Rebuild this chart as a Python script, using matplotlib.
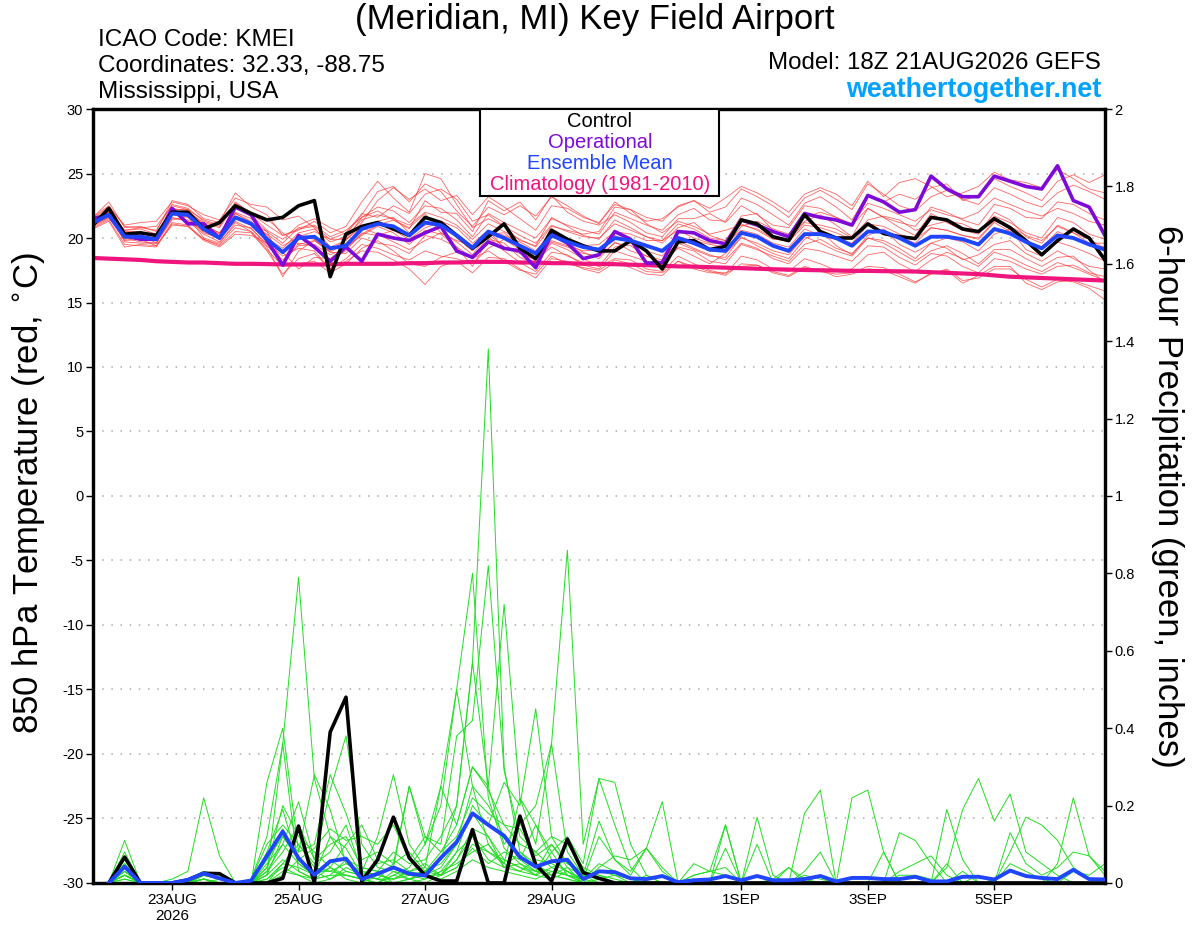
import numpy as np
import pandas as pd
import matplotlib
matplotlib.use("Agg")
import matplotlib.pyplot as plt
from matplotlib.patches import Rectangle

plt.rcParams['font.family'] = ['Liberation Sans', 'DejaVu Sans']

# 6-hourly forecast times, 21AUG2026 18Z -> 6SEP2026 18Z
times = pd.date_range("2026-08-21 18:00", periods=65, freq="6h")
precip_times = times[1:]

# 850 hPa temperature (C)
control_temp = [21.0, 22.3, 20.3, 20.4, 20.2, 22.0, 22.0, 20.7, 21.2, 22.5,
                21.9, 21.4, 21.6, 22.5, 22.9, 17.0, 20.3, 20.9, 21.2, 20.7,
                20.2, 21.6, 21.2, 20.2, 19.2, 20.1, 21.1, 19.2, 18.4, 20.6,
                19.9, 19.4, 19.0, 19.0, 19.8, 19.0, 17.6, 19.7, 19.8, 19.1,
                19.35, 21.4, 21.1, 20.1, 19.8, 21.8, 20.5, 20.0, 20.0, 21.1,
                20.35, 20.1, 19.96, 21.6, 21.4, 20.7, 20.5, 21.5, 20.8, 19.8,
                18.7, 19.8, 20.7, 20.0, 18.3]
mean_temp = [21.2, 21.8, 20.1, 20.1, 19.9, 21.9, 21.8, 20.7, 20.0, 21.6,
             21.1, 19.9, 18.9, 20.0, 20.1, 19.2, 19.4, 20.7, 21.1, 20.9,
             20.2, 21.2, 21.0, 20.2, 19.25, 20.5, 20.0, 19.4, 18.8, 20.2,
             19.7, 19.3, 19.1, 20.0, 19.8, 19.4, 19.0, 20.0, 19.6, 19.1,
             19.0, 20.4, 20.1, 19.4, 19.0, 20.3, 20.3, 20.0, 19.4, 20.5,
             20.5, 20.0, 19.4, 20.1, 20.1, 19.9, 19.5, 20.7, 20.35, 19.7,
             19.2, 20.2, 20.0, 19.5, 19.1]
oper_temp = [21.5, 21.8, 20.2, 19.9, 19.9, 22.3, 21.1, 21.1, 20.0, 22.4,
             21.8, 19.8, 17.9, 20.2, 19.3, 18.2, 19.3, 18.2, 20.3, 20.0,
             19.8, 20.4, 20.9, 19.0, 18.5, 19.7, 19.2, 19.0, 17.7, 20.3,
             19.6, 18.4, 18.7, 20.5, 19.9, 18.05, 18.1, 20.5, 20.4, 19.8,
             19.55, 21.4, 21.0, 20.5, 20.1, 21.9, 21.6, 21.4, 21.0, 23.3,
             22.8, 22.0, 22.2, 24.8, 23.8, 23.2, 23.2, 24.8, 24.4, 24.0,
             23.8, 25.6, 22.9, 22.4, 20.2]
clim_temp = [18.45, 18.4, 18.35, 18.3, 18.2, 18.15, 18.1, 18.1, 18.05, 18.0,
             18.0, 17.98, 17.95, 17.95, 17.95, 17.95, 18.0, 18.0, 18.0, 18.0,
             18.05, 18.05, 18.1, 18.1, 18.15, 18.15, 18.15, 18.1, 18.1, 18.05,
             18.05, 18.0, 18.0, 17.97, 17.93, 17.9, 17.85, 17.8, 17.78, 17.74,
             17.7, 17.66, 17.62, 17.58, 17.55, 17.52, 17.5, 17.48, 17.45, 17.45,
             17.43, 17.42, 17.4, 17.35, 17.3, 17.25, 17.2, 17.1, 17.0, 16.95,
             16.9, 16.85, 16.8, 16.75, 16.7]

member_temp = [
    [21.6, 22.8, 20.8, 20.9, 20.5, 22.9, 22.6, 21.5, 21.2, 23.5, 22.4, 21.8, 20.2, 20.6, 21.3, 20.4, 20.9, 22.8, 24.4, 23.1,
     22.0, 25.0, 24.6, 22.6, 20.8, 21.5, 20.9, 19.8, 19.4, 21.6, 20.9, 20.2, 19.9, 21.4, 20.8, 20.1, 19.6, 20.8, 21.2, 20.2,
     19.8, 21.7, 21.9, 20.6, 20.0, 21.3, 21.8, 21.0, 20.1, 22.3, 21.6, 20.8, 20.2, 21.9, 21.2, 20.6, 20.3, 22.0, 21.4, 20.1,
     19.6, 21.0, 20.4, 19.9, 19.2],
    [20.8, 21.4, 19.5, 19.4, 19.3, 21.1, 20.9, 19.9, 19.4, 20.5, 20.4, 19.0, 17.2, 18.4, 18.8, 17.6, 18.2, 19.0, 18.9, 18.3,
     17.6, 16.4, 17.8, 18.2, 17.3, 18.5, 18.4, 17.6, 16.9, 18.4, 18.2, 17.6, 17.3, 18.1, 17.7, 17.2, 17.1, 18.2, 17.8, 17.4,
     17.1, 18.0, 17.9, 17.4, 17.1, 17.8, 17.4, 17.2, 17.3, 17.8, 17.7, 17.2, 16.6, 17.2, 17.6, 16.7, 16.9, 17.6, 17.6, 16.8,
     16.2, 16.8, 16.6, 16.1, 15.2],
    [21.3, 22.0, 20.6, 20.7, 20.3, 22.3, 22.1, 21.0, 20.4, 22.0, 21.5, 20.5, 19.6, 20.8, 21.0, 20.1, 20.6, 21.6, 22.4, 22.1,
     21.2, 22.5, 22.3, 21.4, 20.1, 21.9, 21.2, 20.6, 20.0, 21.5, 21.0, 20.6, 20.3, 22.0, 21.5, 21.0, 20.6, 21.8, 22.3, 21.4,
     21.3, 23.1, 22.6, 21.8, 21.0, 22.7, 23.2, 22.4, 21.4, 23.4, 22.8, 23.4, 23.0, 23.9, 24.2, 22.9, 23.3, 24.6, 24.0, 23.5,
     22.9, 24.4, 24.9, 24.3, 24.9],
    [21.0, 21.6, 20.0, 20.3, 19.6, 21.6, 21.3, 20.3, 19.7, 21.0, 20.8, 19.4, 18.3, 19.4, 19.5, 18.7, 19.2, 20.3, 21.0, 21.4,
     20.8, 21.9, 20.4, 19.7, 18.7, 20.3, 19.3, 18.8, 18.3, 19.7, 19.3, 18.8, 18.6, 19.6, 19.4, 18.6, 18.3, 19.6, 19.1, 18.6,
     18.5, 20.1, 19.4, 18.8, 18.4, 19.9, 20.6, 19.4, 18.7, 20.2, 20.7, 19.5, 18.9, 19.6, 20.0, 19.7, 19.0, 20.3, 20.7, 19.1,
     18.6, 19.7, 19.3, 18.8, 18.2],
    [21.5, 22.4, 21.0, 21.2, 21.3, 22.8, 22.5, 21.8, 21.4, 23.1, 22.6, 22.4, 21.4, 21.7, 20.8, 19.3, 19.8, 21.2, 22.9, 23.9,
     23.0, 23.8, 22.9, 23.3, 21.8, 23.2, 22.4, 21.5, 20.6, 22.5, 22.3, 21.6, 21.2, 22.6, 22.2, 21.1, 20.4, 21.3, 20.9, 20.3,
     20.6, 21.0, 20.7, 20.0, 19.7, 21.0, 20.8, 20.4, 19.9, 21.1, 20.9, 20.3, 19.9, 20.8, 20.6, 20.2, 20.0, 21.3, 20.9, 20.2,
     19.8, 20.9, 20.4, 19.6, 19.6],
    [21.1, 21.9, 19.7, 19.6, 19.6, 21.4, 21.7, 20.0, 19.6, 21.2, 20.5, 19.3, 17.0, 19.0, 19.8, 18.9, 18.8, 20.0, 19.6, 19.4,
     18.8, 20.2, 19.9, 19.3, 17.8, 19.9, 19.6, 18.5, 18.0, 19.6, 19.1, 18.4, 17.8, 19.3, 19.6, 19.0, 18.6, 20.1, 19.8, 19.5,
     19.3, 20.9, 21.3, 20.7, 20.3, 21.6, 22.0, 21.6, 21.0, 22.3, 21.6, 21.2, 20.9, 22.4, 22.0, 21.4, 21.0, 22.6, 22.3, 21.6,
     21.5, 22.8, 22.6, 21.9, 21.4],
    [21.4, 21.8, 20.4, 20.2, 20.0, 22.1, 22.0, 20.9, 20.3, 21.9, 21.3, 20.2, 18.8, 20.1, 20.5, 19.9, 19.9, 20.8, 20.3, 19.7,
     19.1, 19.8, 20.4, 19.8, 19.4, 20.6, 19.2, 18.9, 18.3, 19.3, 18.6, 18.1, 17.8, 18.4, 18.3, 17.6, 17.4, 18.6, 18.0, 17.5,
     17.2, 18.6, 18.3, 17.6, 17.4, 18.4, 18.0, 17.5, 17.6, 18.7, 18.9, 18.0, 17.4, 18.3, 18.9, 18.4, 17.8, 18.9, 18.5, 17.9,
     17.4, 18.1, 17.7, 17.2, 16.7],
    [20.9, 21.5, 20.2, 20.0, 19.9, 21.8, 22.0, 21.2, 20.8, 22.6, 21.8, 20.6, 19.9, 21.0, 21.5, 20.8, 20.3, 21.8, 23.6, 24.0,
     22.8, 24.2, 23.6, 22.1, 20.9, 22.4, 21.8, 22.5, 21.7, 23.2, 22.5, 21.7, 21.1, 22.8, 21.9, 21.3, 21.5, 22.4, 22.9, 22.0,
     22.4, 23.8, 23.2, 22.5, 21.6, 23.1, 23.7, 23.0, 22.2, 24.2, 23.4, 22.5, 22.1, 23.2, 23.7, 23.0, 22.6, 23.9, 23.4, 22.8,
     22.4, 23.5, 24.1, 23.6, 23.0],
    [21.2, 21.7, 19.9, 20.0, 19.8, 21.5, 21.4, 20.5, 19.9, 21.3, 20.7, 19.6, 18.6, 19.2, 19.0, 17.6, 18.4, 19.5, 19.2, 18.7,
     18.3, 19.0, 18.6, 18.4, 18.0, 19.2, 19.9, 19.1, 18.4, 19.8, 19.4, 19.0, 19.1, 20.2, 19.7, 19.5, 18.9, 19.8, 19.2, 18.7,
     18.3, 19.6, 19.2, 18.4, 18.0, 19.2, 19.0, 18.6, 18.2, 19.4, 19.3, 18.5, 17.9, 18.8, 18.6, 17.8, 17.3, 18.4, 18.2, 17.6,
     17.2, 17.8, 17.9, 17.3, 17.0],
    [21.6, 22.5, 20.9, 20.8, 20.6, 22.6, 22.3, 21.3, 20.9, 22.8, 21.9, 21.0, 20.2, 20.7, 20.9, 19.9, 20.4, 21.9, 21.6, 22.5,
     21.9, 23.4, 23.8, 23.0, 21.3, 21.8, 20.9, 20.2, 19.6, 21.0, 20.5, 20.1, 20.0, 21.1, 20.6, 20.1, 19.8, 21.1, 20.7, 20.0,
     19.8, 21.1, 20.6, 19.9, 19.8, 21.2, 21.0, 20.7, 20.0, 21.4, 21.7, 21.4, 20.6, 21.0, 21.3, 21.1, 20.5, 21.7, 21.2, 20.4,
     20.0, 21.6, 21.2, 20.3, 19.9],
    [20.7, 21.3, 19.3, 19.5, 19.4, 21.0, 20.9, 19.8, 19.3, 20.3, 20.2, 19.6, 18.9, 17.6, 18.5, 18.4, 19.3, 20.2, 20.9, 20.4,
     19.5, 20.6, 20.3, 19.3, 18.5, 20.1, 19.0, 18.1, 17.4, 18.9, 18.7, 17.9, 17.6, 19.0, 18.6, 18.2, 17.9, 19.3, 19.0, 18.2,
     18.0, 19.5, 19.1, 18.6, 18.2, 19.5, 19.9, 19.2, 18.8, 20.0, 19.8, 19.2, 18.4, 19.6, 19.2, 18.3, 18.7, 19.5, 19.8, 18.8,
     18.2, 19.0, 18.4, 17.8, 17.6],
    [21.3, 22.1, 20.5, 20.5, 20.1, 22.2, 22.2, 21.0, 20.4, 21.9, 21.2, 20.0, 19.2, 20.4, 20.7, 19.7, 20.1, 21.4, 21.8, 21.5,
     21.0, 22.0, 21.6, 21.0, 19.9, 21.1, 20.5, 19.9, 19.3, 20.9, 20.6, 20.3, 20.5, 22.4, 22.2, 21.6, 21.3, 22.5, 22.9, 22.3,
     23.1, 24.0, 23.5, 22.8, 22.0, 23.4, 23.9, 23.4, 22.5, 24.4, 23.2, 24.3, 24.6, 24.0, 23.2, 23.5, 24.0, 25.1, 24.5, 24.3,
     23.9, 25.3, 24.6, 23.8, 23.5],
    [21.0, 21.6, 19.8, 19.9, 19.4, 21.2, 21.0, 19.9, 19.5, 20.8, 20.5, 19.1, 17.8, 18.0, 18.2, 17.3, 18.0, 19.2, 19.8, 19.0,
     18.0, 17.8, 18.5, 18.9, 18.4, 19.0, 18.2, 17.5, 17.2, 18.6, 18.0, 17.7, 17.5, 18.3, 18.0, 17.4, 17.3, 18.2, 17.6, 17.3,
     17.3, 17.8, 17.9, 17.3, 17.0, 17.7, 17.5, 17.0, 17.2, 17.6, 17.5, 17.0, 16.5, 17.3, 17.5, 16.5, 17.1, 17.8, 17.8, 16.5,
     16.0, 16.6, 16.7, 16.3, 15.9],
    [21.4, 22.2, 20.3, 20.4, 20.1, 22.0, 21.9, 20.6, 19.9, 21.5, 21.0, 20.3, 19.4, 20.1, 19.9, 18.9, 19.6, 20.6, 21.3, 21.6,
     20.4, 21.0, 21.3, 20.8, 19.6, 20.6, 20.2, 19.7, 19.0, 20.4, 19.9, 19.4, 19.5, 20.5, 20.3, 19.8, 19.8, 20.6, 20.0, 19.6,
     19.6, 20.6, 20.3, 19.6, 19.3, 20.7, 20.2, 20.0, 19.6, 21.0, 20.5, 20.1, 19.6, 20.8, 20.6, 20.2, 19.9, 21.2, 20.5, 19.7,
     19.3, 20.5, 20.0, 19.4, 19.3],
    [21.2, 22.0, 20.6, 20.8, 20.9, 22.5, 22.2, 21.4, 21.0, 22.7, 22.0, 21.5, 20.4, 19.5, 19.8, 19.0, 19.9, 21.6, 22.1, 21.4,
     20.7, 22.9, 22.0, 21.9, 20.5, 22.9, 22.1, 22.8, 21.4, 23.3, 22.0, 21.3, 21.0, 21.8, 21.2, 20.4, 20.1, 21.5, 21.5, 21.9,
     21.2, 22.5, 21.8, 21.0, 20.8, 22.5, 22.3, 21.6, 21.1, 22.7, 22.3, 21.8, 21.3, 22.2, 21.8, 21.5, 22.0, 23.1, 22.6, 22.1,
     21.7, 22.3, 21.9, 21.3, 21.0],
    [21.0, 21.7, 20.0, 19.7, 19.6, 21.8, 21.6, 20.4, 20.0, 21.6, 21.1, 20.5, 18.0, 19.6, 19.4, 18.3, 19.0, 20.4, 20.2, 20.6,
     19.9, 20.8, 21.2, 20.0, 19.0, 20.3, 20.4, 19.4, 18.9, 20.6, 19.6, 18.9, 18.4, 19.7, 19.0, 18.6, 18.1, 19.2, 18.6, 18.0,
     18.8, 20.0, 19.6, 19.0, 18.7, 20.1, 19.6, 19.0, 18.6, 20.0, 19.6, 18.9, 18.2, 19.0, 19.4, 18.8, 18.0, 19.1, 19.1, 18.4,
     17.8, 18.5, 18.6, 17.5, 16.6],
]

# 6-hour precipitation (inches), valid at times[1:]
control_precip = [0, 0.067, 0, 0, 0, 0.008, 0.025, 0.024, 0, 0, 0, 0.012, 0.147, 0, 0.39, 0.48,
                  0.005, 0.06, 0.17, 0.065, 0.02, 0.005, 0.005, 0.138, 0, 0, 0.173, 0.047, 0.005, 0.113, 0.027, 0.012,
                  0, 0, 0, 0, 0, 0, 0, 0, 0, 0, 0, 0, 0, 0, 0, 0,
                  0, 0, 0, 0, 0, 0, 0, 0, 0, 0, 0, 0, 0, 0, 0, 0]
mean_precip = [0, 0.042, 0, 0, 0, 0.008, 0.025, 0.012, 0, 0.006, 0.07, 0.133, 0.064, 0.021, 0.056, 0.063,
               0.01, 0.024, 0.04, 0.024, 0.019, 0.065, 0.106, 0.18, 0.15, 0.122, 0.067, 0.042, 0.056, 0.06, 0.01, 0.03,
               0.028, 0.012, 0.01, 0.018, 0.002, 0.007, 0.009, 0.018, 0.007, 0.018, 0.007, 0.007, 0.01, 0.018, 0.004, 0.013,
               0.013, 0.01, 0.01, 0.016, 0.004, 0.004, 0.016, 0.016, 0.009, 0.032, 0.018, 0.013, 0.01, 0.034, 0.01, 0.009]

# ensemble members, hundredths of an inch
member_precip_hundredths = [
    [0, 11, 0, 0, 0, 0, 2, 1, 0, 0, 3, 8, 15, 6, 10, 12, 4, 3, 8, 5, 6, 12, 20, 57, 138, 30, 8, 4, 3, 2, 0, 0,
     0, 0, 0, 0, 0, 0, 0, 0, 0, 0, 0, 0, 0, 2, 0, 0, 0, 0, 0, 0, 0, 0, 0, 0, 0, 0, 0, 0, 0, 0, 0, 0],
    [0, 6, 0, 0, 0, 1, 3, 2, 0, 1, 12, 36, 79, 27, 12, 9, 2, 5, 6, 3, 2, 4, 10, 25, 20, 12, 6, 15, 8, 2, 1, 0,
     0, 0, 2, 0, 0, 0, 0, 0, 0, 0, 0, 4, 0, 0, 0, 0, 0, 0, 0, 0, 0, 0, 0, 0, 0, 0, 0, 0, 0, 0, 0, 0],
    [0, 4, 0, 0, 0, 0, 1, 0, 0, 0, 5, 10, 21, 6, 24, 38, 10, 4, 3, 2, 3, 8, 15, 30, 25, 10, 15, 20, 36, 86, 10, 27,
     15, 4, 0, 0, 0, 0, 0, 0, 0, 0, 0, 0, 0, 0, 0, 0, 0, 0, 0, 0, 0, 0, 0, 0, 0, 0, 0, 0, 0, 0, 0, 0],
    [0, 8, 0, 0, 0, 0, 0, 0, 0, 0, 26, 40, 8, 28, 19, 5, 3, 12, 28, 10, 4, 25, 50, 80, 22, 9, 5, 3, 10, 4, 0, 0,
     0, 0, 0, 0, 0, 0, 0, 0, 0, 0, 0, 0, 0, 0, 0, 0, 0, 0, 0, 0, 0, 0, 0, 0, 0, 0, 0, 0, 0, 0, 0, 0],
    [0, 3, 0, 0, 0, 0, 2, 1, 0, 0, 4, 20, 12, 8, 4, 10, 15, 6, 4, 25, 12, 10, 38, 42, 82, 29, 12, 8, 4, 6, 2, 0,
     0, 0, 0, 0, 0, 0, 0, 0, 0, 0, 0, 0, 0, 0, 0, 0, 0, 0, 0, 0, 0, 5, 0, 0, 0, 0, 0, 0, 0, 0, 0, 0],
    [0, 5, 0, 0, 0, 0, 1, 0, 0, 0, 8, 19, 5, 2, 12, 6, 2, 1, 5, 8, 3, 6, 20, 57, 25, 72, 22, 15, 6, 3, 0, 0,
     0, 0, 0, 0, 0, 0, 0, 0, 0, 0, 0, 0, 0, 0, 0, 0, 0, 0, 0, 0, 0, 0, 0, 0, 0, 0, 0, 0, 0, 0, 0, 0],
    [0, 2, 0, 0, 0, 0, 0, 0, 0, 1, 10, 15, 10, 5, 8, 15, 3, 2, 1, 3, 5, 2, 8, 20, 15, 26, 20, 45, 12, 5, 3, 1,
     0, 0, 0, 0, 0, 0, 0, 0, 0, 0, 0, 0, 0, 0, 0, 0, 0, 0, 0, 0, 0, 0, 0, 0, 0, 0, 0, 0, 0, 0, 0, 0],
    [0, 3, 0, 0, 0, 0, 2, 1, 0, 0, 2, 12, 6, 3, 3, 2, 1, 0, 2, 4, 10, 20, 50, 25, 10, 5, 22, 10, 36, 8, 2, 16,
     6, 2, 9, 3, 0, 0, 0, 15, 0, 0, 0, 0, 0, 0, 0, 0, 0, 0, 0, 0, 0, 0, 0, 0, 0, 0, 0, 0, 0, 0, 0, 0],
    [0, 2, 0, 0, 1, 3, 22, 7, 0, 0, 2, 36, 3, 1, 2, 6, 4, 3, 0, 1, 3, 2, 6, 12, 8, 6, 4, 2, 8, 12, 5, 27,
     26, 10, 2, 0, 0, 0, 0, 0, 0, 0, 0, 0, 0, 0, 0, 0, 0, 0, 0, 0, 0, 0, 0, 0, 0, 0, 0, 0, 0, 0, 0, 0],
    [0, 1, 0, 0, 0, 0, 1, 0, 0, 0, 0, 5, 4, 2, 6, 3, 2, 1, 0, 0, 1, 3, 5, 8, 10, 4, 8, 5, 2, 1, 0, 1,
     2, 0, 0, 0, 0, 0, 0, 0, 0, 0, 0, 0, 18, 24, 0, 22, 24, 8, 0, 0, 0, 0, 0, 0, 0, 0, 0, 0, 0, 0, 0, 0],
    [0, 2, 0, 0, 0, 0, 0, 0, 0, 0, 0, 3, 2, 1, 4, 2, 1, 0, 2, 1, 0, 2, 4, 10, 8, 5, 3, 2, 4, 2, 0, 0,
     0, 0, 0, 0, 0, 0, 0, 0, 0, 0, 0, 0, 0, 0, 0, 0, 0, 0, 0, 0, 0, 4, 19, 27, 16, 23, 8, 5, 2, 0, 0, 0],
    [0, 0, 0, 0, 0, 0, 0, 0, 0, 0, 1, 4, 2, 0, 1, 3, 2, 1, 0, 1, 2, 1, 3, 6, 4, 3, 2, 1, 3, 2, 1, 12,
     6, 3, 9, 21, 0, 2, 3, 15, 0, 17, 2, 0, 0, 0, 0, 0, 0, 0, 0, 0, 0, 0, 0, 0, 0, 0, 0, 0, 5, 22, 7, 2],
    [0, 4, 0, 0, 0, 1, 2, 1, 0, 0, 3, 10, 5, 2, 4, 1, 0, 2, 4, 2, 1, 3, 8, 12, 6, 4, 3, 6, 5, 3, 1, 5,
     3, 1, 0, 0, 0, 0, 0, 0, 0, 0, 0, 0, 0, 0, 0, 0, 0, 0, 13, 11, 5, 0, 3, 0, 0, 8, 17, 15, 11, 4, 1, 0],
    [0, 2, 0, 0, 0, 0, 1, 0, 0, 0, 0, 2, 6, 3, 1, 4, 2, 1, 1, 3, 4, 2, 4, 9, 5, 8, 6, 3, 2, 4, 2, 1,
     0, 0, 0, 0, 0, 0, 0, 9, 0, 10, 0, 0, 3, 8, 0, 0, 0, 8, 0, 0, 0, 19, 6, 0, 0, 0, 0, 0, 0, 0, 0, 0],
    [0, 1, 0, 0, 0, 0, 0, 1, 0, 0, 2, 6, 3, 1, 2, 2, 1, 0, 3, 1, 2, 2, 6, 14, 12, 4, 5, 2, 1, 3, 1, 3,
     2, 1, 0, 0, 0, 5, 3, 2, 0, 0, 1, 4, 1, 0, 0, 0, 0, 0, 3, 5, 7, 2, 0, 0, 0, 13, 5, 2, 4, 8, 7, 3],
    [0, 3, 0, 0, 0, 0, 1, 0, 0, 0, 1, 5, 10, 4, 3, 5, 3, 2, 1, 2, 3, 5, 10, 18, 12, 6, 4, 3, 2, 1, 0, 4,
     7, 6, 9, 4, 0, 2, 3, 4, 0, 2, 1, 0, 2, 1, 0, 0, 0, 0, 2, 2, 1, 0, 0, 2, 0, 5, 3, 1, 0, 3, 2, 5],
    [0, 5, 0, 0, 0, 0, 0, 0, 0, 0, 4, 14, 6, 9, 14, 11, 12, 10, 15, 6, 12, 8, 12, 22, 18, 15, 14, 7, 10, 5, 3, 2,
     1, 0, 0, 0, 0, 0, 0, 0, 0, 0, 0, 0, 0, 0, 0, 0, 0, 0, 0, 0, 0, 0, 0, 0, 0, 0, 0, 0, 0, 0, 0, 0],
    [0, 2, 0, 0, 0, 0, 1, 0, 0, 0, 6, 12, 8, 10, 28, 18, 6, 8, 5, 25, 10, 25, 15, 30, 24, 15, 10, 8, 12, 10, 4, 2,
     0, 0, 0, 0, 0, 0, 0, 0, 0, 0, 0, 0, 0, 0, 0, 0, 0, 0, 0, 0, 0, 0, 0, 0, 0, 0, 0, 0, 0, 0, 0, 0],
]

tick_dates = pd.to_datetime(["2026-08-23", "2026-08-25", "2026-08-27", "2026-08-29",
                             "2026-09-01", "2026-09-03", "2026-09-05"])
tick_labels = ["23AUG\n2026", "25AUG", "27AUG", "29AUG", "1SEP", "3SEP", "5SEP"]
temp_ticks = list(range(-30, 31, 5))
precip_ticks = [0, 0.2, 0.4, 0.6, 0.8, 1, 1.2, 1.4, 1.6, 1.8, 2]
precip_tick_labels = ["0", "0.2", "0.4", "0.6", "0.8", "1", "1.2", "1.4", "1.6", "1.8", "2"]

fig = plt.figure(figsize=(12, 9.27), dpi=100)
ax = fig.add_axes([0.0775, 0.0475, 0.8433, 0.8349])
ax2 = ax.twinx()

# temperature
for y in range(-25, 30, 5):
    ax.axhline(y, color="#aaaaaa", lw=1.1, ls=(0, (1, 5)), zorder=0)
for m in member_temp:
    ax.plot(times, m, color="#ff3030", lw=0.6, alpha=0.75, zorder=1)
ax.plot(times, clim_temp, color="#f0147d", lw=3, zorder=3)
ax.plot(times, oper_temp, color="#7d0ad8", lw=2.6, zorder=4)
ax.plot(times, control_temp, color="black", lw=2.6, zorder=5)
ax.plot(times, mean_temp, color="#2045ff", lw=2.8, zorder=6)

# precipitation
for m in member_precip_hundredths:
    ax2.plot(precip_times, np.array(m) / 100, color="#22dd22", lw=0.7, zorder=1)
ax2.plot(precip_times, control_precip, color="black", lw=2.6, zorder=3)
ax2.plot(precip_times, mean_precip, color="#2045ff", lw=2.8, zorder=4)

ax.set_xlim(times[0], times[-1])
ax.set_ylim(-30, 30)
ax2.set_ylim(0, 2)
ax.set_yticks(temp_ticks)
ax.set_yticklabels([str(v) for v in temp_ticks], fontsize=10.5)
ax2.set_yticks(precip_ticks)
ax2.set_yticklabels(precip_tick_labels, fontsize=10.5)
ax.set_xticks(tick_dates)
ax.set_xticklabels(tick_labels, fontsize=11)
ax.tick_params(axis="x", length=5, width=1, pad=2)
ax.tick_params(axis="y", length=5, width=1, pad=2)
ax2.tick_params(axis="y", length=5, width=1, pad=2)
for a in (ax, ax2):
    for s in a.spines.values():
        s.set_linewidth(2.3)

# axis titles
fig.text(0.024, 0.468, "850 hPa Temperature (red, $^{\\circ}$C)", fontsize=25,
         rotation=90, ha="center", va="center")
fig.text(0.973, 0.465, "6-hour Precipitation (green, inches)", fontsize=25,
         rotation=-90, ha="center", va="center")

# legend box
ax2.add_patch(Rectangle((0.3824, 0.8876), 0.2362, 0.1124, transform=ax2.transAxes,
                        facecolor="white", edgecolor="black", lw=1.5, zorder=10))
legend_items = [("Control", "black"), ("Operational", "#7d0ad8"),
                ("Ensemble Mean", "#2045ff"), ("Climatology (1981-2010)", "#f0147d")]
for i, (txt, col) in enumerate(legend_items):
    ax2.text(0.501, 0.9845 - i * 0.0275, txt, color=col, fontsize=14.5,
             ha="center", va="center", transform=ax2.transAxes, zorder=11)

# header
fig.text(0.496, 0.979, "(Meridian, MI) Key Field Airport", fontsize=25, ha="center", va="center")
fig.text(0.0817, 0.957, "ICAO Code: KMEI", fontsize=17.5, ha="left", va="center")
fig.text(0.0817, 0.929, "Coordinates: 32.33, -88.75", fontsize=17.5, ha="left", va="center")
fig.text(0.0817, 0.901, "Mississippi, USA", fontsize=17.5, ha="left", va="center")
fig.text(0.9175, 0.932, "Model: 18Z 21AUG2026 GEFS", fontsize=17.4, ha="right", va="center")
fig.text(0.9175, 0.903, "weathertogether.net", fontsize=19.4, fontweight="bold",
         color="#00a2ff", ha="right", va="center")

fig.savefig("out.png", dpi=100)
